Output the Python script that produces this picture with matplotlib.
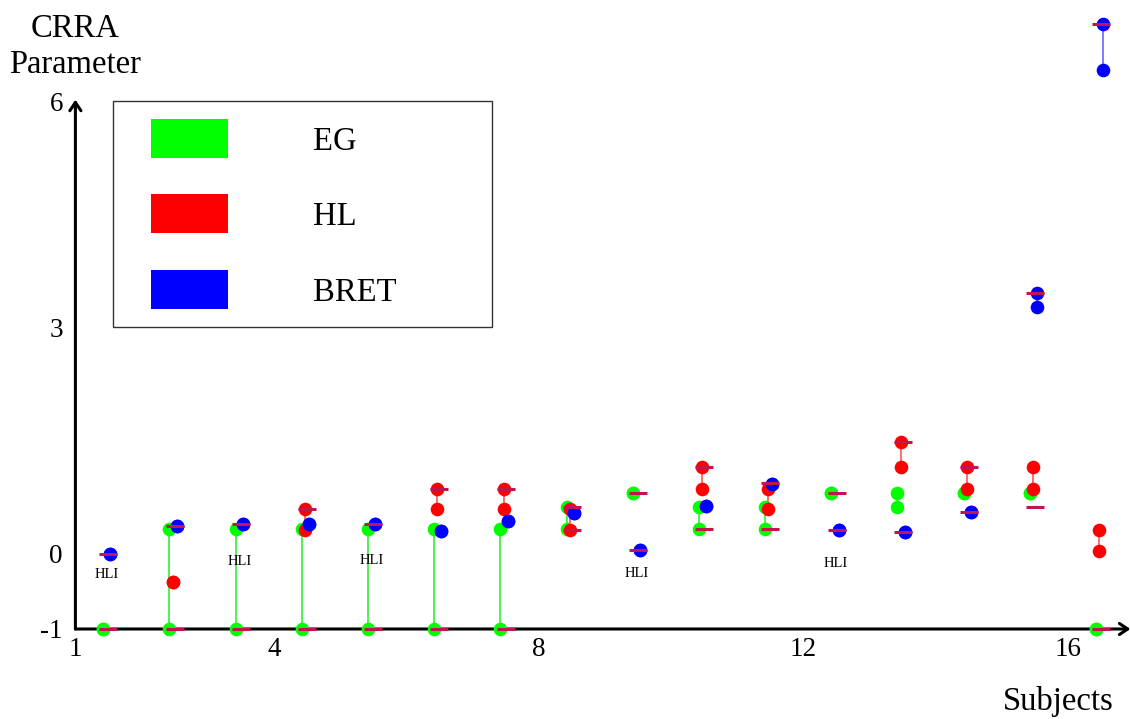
import numpy as np
import matplotlib.pyplot as plt
from matplotlib.patches import Rectangle

plt.rcParams['font.family'] = ['Liberation Serif', 'DejaVu Serif']

nan = np.nan
subjects = np.arange(1, 17)

# CRRA intervals per subject (lower / upper end), one pair per task
eg_lo = [-1, -1, -1, -1, -1, -1, -1, 0.33, 0.81, 0.33, 0.33, 0.81, 0.62, 0.81, 0.81, -1]
eg_hi = [-1, 0.33, 0.33, 0.33, 0.33, 0.33, 0.33, 0.62, 0.81, 0.62, 0.62, 0.81, 0.81, 0.81, 0.81, -1]
hl_lo = [nan, -0.37, nan, 0.32, nan, 0.59, 0.59, 0.32, nan, 0.86, 0.59, nan, 1.15, 0.86, 0.86, 0.03]
hl_hi = [nan, -0.37, nan, 0.60, nan, 0.86, 0.86, 0.60, nan, 1.15, 0.86, nan, 1.49, 1.15, 1.15, 0.32]
bret_lo = [0.0, 0.37, 0.39, 0.39, 0.39, 0.30, 0.43, 0.54, 0.05, 0.64, 0.93, 0.31, 0.29, 0.56, 3.27, 6.43]
bret_hi = [0.0, 0.37, 0.39, 0.39, 0.39, 0.30, 0.43, 0.54, 0.05, 0.64, 0.93, 0.31, 0.29, 0.56, 3.46, 7.03]

# overall min / max markers (dashes)
mark_lo = [-1, -1, -1, -1, -1, -1, -1, 0.32, 0.05, 0.33, 0.33, 0.31, 0.29, 0.56, 0.62, -1]
mark_hi = [0.0, 0.37, 0.40, 0.60, 0.40, 0.86, 0.86, 0.62, 0.81, 1.15, 0.94, 0.81, 1.49, 1.15, 3.46, 7.03]

# subjects with inconsistent HL choices
hli_subjects = [1, 3, 5, 9, 12]
hli_y = [-0.28, -0.10, -0.09, -0.26, -0.13]

xticks = [1, 4, 8, 12, 16]
yticks = [-1, 0, 3, 6]

W, H = 1130, 719
def px(x, y):
    return x / W, 1 - y / H

fig = plt.figure(figsize=(W / 100, H / 100), dpi=100)
ax = fig.add_axes([75.4 / W, 90 / H, (W - 75.4) / W, 629 / H])
ax.set_xlim(1, 1 + (W - 75.4) / 66.19)
ax.set_ylim(-1, -1 + 629 / 75.3)
for s in ax.spines.values():
    s.set_visible(False)

series = [
    (eg_lo, eg_hi, 0.42, '#00ff00', '#33ee33'),
    (hl_lo, hl_hi, 0.47, '#ff0000', '#ff5555'),
    (bret_lo, bret_hi, 0.53, '#0000ff', '#6666ff'),
]
for lo, hi, off, c, lc in series:
    x = subjects + off
    ax.vlines(x, lo, hi, color=lc, lw=1.2, zorder=2)
    ax.plot(x, lo, 'o', ms=9.8, color=c, mec='none', zorder=3, clip_on=False)
    ax.plot(x, hi, 'o', ms=9.8, color=c, mec='none', zorder=3, clip_on=False)

for m in (mark_lo, mark_hi):
    ax.plot(subjects + 0.5, m, '_', ms=13, mew=2.2, color='#c21450', zorder=4, clip_on=False)

for s, y in zip(hli_subjects, hli_y):
    ax.text(s + 0.48, y, 'HLI', ha='center', va='center', fontsize=10.5)

# axes with arrow heads
arrow = dict(arrowstyle='->,head_length=0.3,head_width=0.2', lw=2.2, color='black',
             shrinkA=0, shrinkB=0, mutation_scale=20)
ax.annotate('', xy=(16.94, -1), xytext=(1, -1), arrowprops=arrow, zorder=1)
ax.annotate('', xy=(1, 6.03), xytext=(1, -1), arrowprops=arrow, zorder=1)

ax.set_xticks(xticks)
ax.set_xticklabels([str(t) for t in xticks])
ax.set_yticks(yticks)
ax.set_yticklabels([str(t) for t in yticks])
ax.tick_params(length=0, labelsize=19.5)
ax.tick_params(axis='x', pad=6)
ax.tick_params(axis='y', pad=9)

fig.text(*px(75, 36.7), 'CRRA', ha='center', va='baseline', fontsize=23.5)
fig.text(*px(75, 73.3), 'Parameter', ha='center', va='baseline', fontsize=23.5)
fig.text(*px(1058, 710), 'Subjects', ha='center', va='baseline', fontsize=23.5)

# legend box
x0, y0 = px(113.3, 327.3)
x1, y1 = px(491.7, 100.7)
fig.add_artist(Rectangle((x0, y0), x1 - x0, y1 - y0, transform=fig.transFigure,
                         fill=False, edgecolor='#333333', lw=1))
leg_labels = ['EG', 'HL', 'BRET']
leg_colors = ['#00ff00', '#ff0000', '#0000ff']
leg_tops = [119, 194.3, 270]
leg_base = [150, 225, 300.7]
for lab, c, t, b in zip(leg_labels, leg_colors, leg_tops, leg_base):
    rx0, ry0 = px(151, t + 38.7)
    rx1, ry1 = px(227.7, t)
    fig.add_artist(Rectangle((rx0, ry0), rx1 - rx0, ry1 - ry0, transform=fig.transFigure,
                             color=c, lw=0))
    fig.text(*px(313.3, b), lab, ha='left', va='baseline', fontsize=23.5)

fig.savefig('out.png', dpi=100)
